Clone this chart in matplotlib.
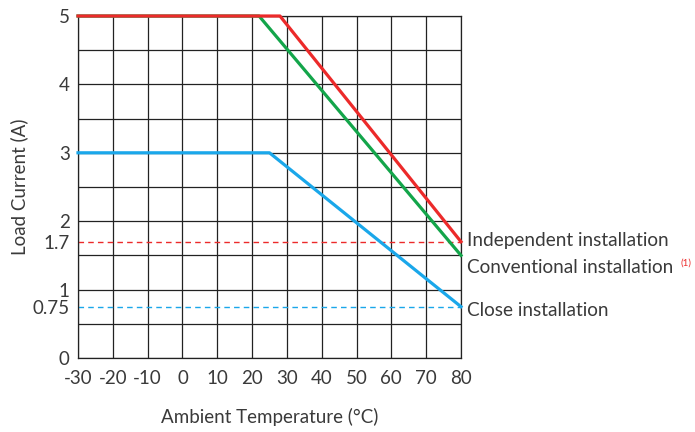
import matplotlib
matplotlib.use("Agg")
import matplotlib.pyplot as plt

plt.rcParams['font.family'] = ['Lato', 'DejaVu Sans']

# Data
indep_x = [-30, 28, 80]
indep_y = [5, 5, 1.7]
conv_x = [-30, 22, 80]
conv_y = [5, 5, 1.5]
close_x = [-30, 25, 80]
close_y = [3, 3, 0.75]
indep_ref = 1.7
close_ref = 0.75
xticks = [-30, -20, -10, 0, 10, 20, 30, 40, 50, 60, 70, 80]
yticks = [0, 0.75, 1, 1.7, 2, 3, 4, 5]
ytick_labels = ["0", "0.75", "1", "1.7", "2", "3", "4", "5"]
ygrid = [0, 0.5, 1, 1.5, 2, 2.5, 3, 3.5, 4, 4.5, 5]

red = "#ec2a2a"
green = "#13a54a"
blue = "#1aa7ea"
txt = "#3a3a3a"
gridc = "#222222"

fig = plt.figure(figsize=(6.95, 4.32), dpi=100)
ax = fig.add_axes([78/695, 1-358/432, (461-78)/695, (358-16)/432])
ax.set_xlim(-30, 80)
ax.set_ylim(0, 5)

for xv in xticks:
    ax.axvline(xv, color=gridc, linewidth=0.9, zorder=1)
for yv in ygrid:
    ax.axhline(yv, color=gridc, linewidth=0.9, zorder=1)
for s in ax.spines.values():
    s.set_color(gridc)
    s.set_linewidth(0.9)

ax.set_xticks(xticks)
ax.set_xticklabels([str(v) for v in xticks])
ax.set_yticks(yticks)
ax.set_yticklabels(ytick_labels)
ax.tick_params(which='both', length=0, labelsize=13.5, colors=txt, pad=6)
ax.tick_params(axis='x', pad=9)

ax.axhline(indep_ref, color=red, linestyle=(0, (4, 3)), linewidth=1.0, zorder=2)
ax.axhline(close_ref, color=blue, linestyle=(0, (4, 3)), linewidth=1.0, zorder=2)

ax.plot(conv_x, conv_y, color=green, linewidth=2.3, clip_on=False, zorder=3)
ax.plot(indep_x, indep_y, color=red, linewidth=2.3, clip_on=False, zorder=4)
ax.plot(close_x, close_y, color=blue, linewidth=2.3, clip_on=False, zorder=3)

ax.set_xlabel("Ambient Temperature (\u00b0C)", fontsize=13.5, color=txt, labelpad=15)
ax.set_ylabel("Load Current (A)", fontsize=13.5, color=txt, labelpad=3)

ax.text(81.8, 1.72, "Independent installation", fontsize=13.7, color=txt, va='center', clip_on=False)
t = ax.text(81.8, 1.32, "Conventional installation", fontsize=13.7, color=txt, va='center', clip_on=False)
ax.annotate("(1)", xy=(1, 0.75), xycoords=t, xytext=(5, 0), textcoords='offset points',
            fontsize=7, color=red, va='center', ha='left')
ax.text(81.8, 0.70, "Close installation", fontsize=13.7, color=txt, va='center', clip_on=False)

fig.savefig("out.png", dpi=100)
